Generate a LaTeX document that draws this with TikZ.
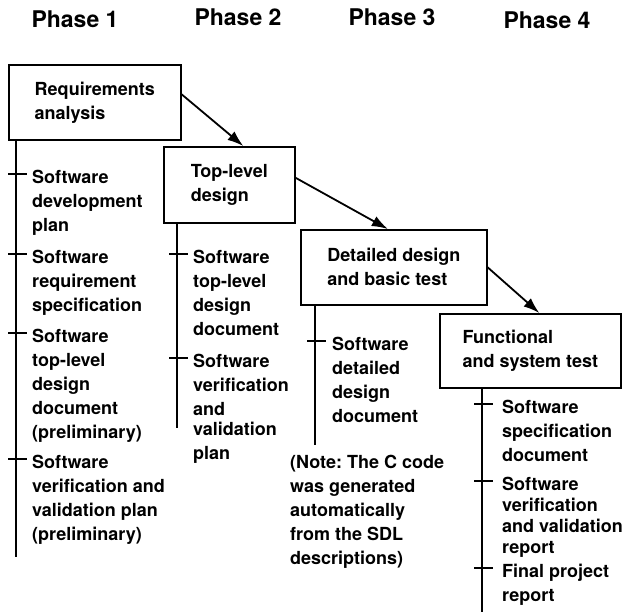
\documentclass[tikz,border=0pt]{standalone}
\usepackage{fontspec}
\setmainfont{TeX Gyre Heros}
\usetikzlibrary{arrows.meta}

\tikzset{
  phasebox/.style={draw, line width=1.6pt, anchor=north west, align=left,
    inner sep=0pt, font=\fontsize{18}{24}\selectfont\bfseries},
  deliv/.style={anchor=north west, align=left, inner sep=0pt,
    font=\fontsize{18}{24}\selectfont\bfseries},
  phase/.style={anchor=base, font=\fontsize{23}{28}\selectfont\bfseries},
  rail/.style={line width=1.4pt},
  flow/.style={line width=1.8pt, -{Latex[length=16pt,width=11pt]}},
}

\begin{document}
\begin{tikzpicture}[x=1pt,y=-1pt]
\useasboundingbox (0,0) rectangle (628,613);
% Phase titles
\node[phase] (h1) at (75,27) {Phase 1};
\node[phase] (h2) at (238,25) {Phase 2};
\node[phase] (h3) at (392,25) {Phase 3};
\node[phase] (h4) at (547,28) {Phase 4};
% Phase boxes
\node[phasebox, minimum width=172pt, minimum height=75pt] (r1) at (8,64) {Requirements\\analysis};
\node[phasebox, minimum width=131pt, minimum height=76pt] (r2) at (163,146) {Top-level\\design};
\node[phasebox, minimum width=186pt, minimum height=75pt] (r3) at (300,229) {Detailed design\\and basic test};
\node[phasebox, minimum width=181pt, minimum height=74pt] (r4) at (439,313) {Functional\\and system test};
% Arrows between phases
\draw[flow] ([yshift=8pt]r1.east) -- ([xshift=14pt]r2.north);
\draw[flow] ([yshift=7pt]r2.east) -- ([xshift=-6pt]r3.north);
\draw[flow] (r3.east) -- ([xshift=9pt]r4.north);
% Rails below the boxes
\coordinate (e1) at (16,557);
\coordinate (e2) at (177,428);
\coordinate (e3) at (315,445);
\coordinate (e4) at (482,612);
\draw[rail] (r1.south -| e1) -- (e1);
\draw[rail] (r2.south -| e2) -- (e2);
\draw[rail] (r3.south -| e3) -- (e3);
\draw[rail] (r4.south -| e4) -- (e4);
% Deliverables
\node[deliv] (d1a) at (32,170) {Software\\development\\plan};
\node[deliv] (d1b) at (32,250) {Software\\requirement\\specification};
\node[deliv] (d1c) at (32,329) {Software\\top-level\\design\\document\\(preliminary)};
\node[deliv] (d1d) at (32,455) {Software\\verification and\\validation plan\\(preliminary)};
\node[deliv] (d2a) at (193,250) {Software\\top-level\\design\\document};
\node[deliv] (d2b) at (193,354) {Software\\verification\\and\\[-4pt]validation\\plan};
\node[deliv] (d3a) at (332,337) {Software\\detailed\\design\\document};
\node[deliv] (note) at (290,455) {(Note:\ The C code\\was generated\\automatically\\from the SDL\\descriptions)};
\node[deliv] (d4a) at (502,400) {Software\\specification\\document};
\node[deliv] (d4b) at (502,477) {Software\\[-3pt]verification\\[-3pt]and validation\\[-3pt]report};
\node[deliv] (d4c) at (502,564) {Final project\\report};
% Ticks on the rails
\foreach \d/\e in {d1a/e1,d1b/e1,d1c/e1,d1d/e1,d2a/e2,d2b/e2,d3a/e3,d4a/e4,d4b/e4,d4c/e4}
  \draw[rail] (\d.north west -| \e) ++(-8pt,-4pt) -- ++(19pt,0);
\end{tikzpicture}
\end{document}
